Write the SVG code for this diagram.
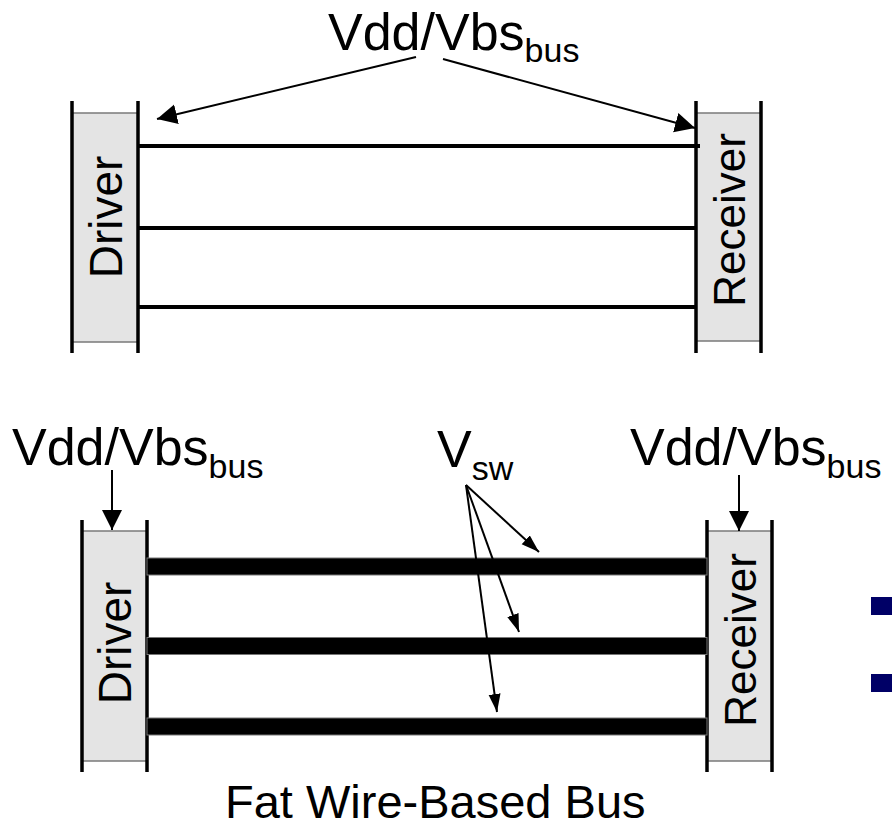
<svg xmlns="http://www.w3.org/2000/svg" width="892" height="830" viewBox="0 0 892 830">
<defs>
<style>
text{font-family:"Liberation Sans",Arial,sans-serif;fill:#000}
.lbl{font-size:52px}
.sub{font-size:34px}
.blk{font-size:44px}
.drv{font-size:46px}
.cap{font-size:47px}
.fill{fill:#e4e4e4;stroke:#7a7a7a;stroke-width:1.5}
.side{stroke:#000;stroke-width:3.5}
.wire{stroke:#000;stroke-width:4}
.fat{fill:#000;stroke:#777;stroke-width:1}
.arr{stroke:#000;stroke-width:2;fill:none}
.bul{fill:#000066}
</style>
<marker id="ah" markerUnits="userSpaceOnUse" markerWidth="22" markerHeight="22" refX="20" refY="10" orient="auto">
<path d="M0,0 L20,10 L0,20 Z" fill="#000"/>
</marker>
<marker id="ahs" markerUnits="userSpaceOnUse" markerWidth="20" markerHeight="14" refX="18" refY="6" orient="auto">
<path d="M0,0 L18,6 L0,12 Z" fill="#000"/>
</marker>
</defs>

<g id="top-driver">
<rect class="fill" x="72" y="113" width="66" height="229"/>
<line class="side" x1="72" y1="101" x2="72" y2="353"/>
<line class="side" x1="138" y1="101" x2="138" y2="353"/>
<text class="drv" text-anchor="middle" transform="translate(105,217) rotate(-90)" y="16.5">Driver</text>
</g>

<g id="top-receiver">
<rect class="fill" x="696" y="113" width="65" height="228"/>
<line class="side" x1="696" y1="101" x2="696" y2="353"/>
<line class="side" x1="761" y1="101" x2="761" y2="353"/>
<text class="blk" text-anchor="middle" transform="translate(728.5,220) rotate(-90)" y="16">Receiver</text>
</g>

<g id="top-label">
<text class="lbl" x="328" y="50">Vdd/Vbs<tspan class="sub" dy="12">bus</tspan></text>
</g>

<g id="bottom-driver">
<rect class="fill" x="82" y="531" width="65" height="230"/>
<line class="side" x1="82" y1="520" x2="82" y2="772"/>
<line class="side" x1="147" y1="520" x2="147" y2="772"/>
<text class="drv" text-anchor="middle" transform="translate(114.5,643) rotate(-90)" y="16.5">Driver</text>
</g>

<g id="bottom-receiver">
<rect class="fill" x="707" y="531" width="65" height="230"/>
<line class="side" x1="707" y1="520" x2="707" y2="772"/>
<line class="side" x1="772" y1="520" x2="772" y2="772"/>
<text class="blk" text-anchor="middle" transform="translate(739.5,640) rotate(-90)" y="16">Receiver</text>
</g>

<g id="bottom-left-label">
<text class="lbl" x="12" y="465">Vdd/Vbs<tspan class="sub" dy="13">bus</tspan></text>
</g>
<g id="bottom-right-label">
<text class="lbl" x="630" y="465">Vdd/Vbs<tspan class="sub" dy="13">bus</tspan></text>
</g>
<g id="vsw-label">
<text class="lbl" x="437" y="467">V<tspan class="sub" dy="13">sw</tspan></text>
</g>

<g id="caption">
<text class="cap" x="225" y="818">Fat Wire-Based Bus</text>
</g>

<g id="bullets">
<rect class="bul" x="871" y="597" width="21" height="18"/>
<rect class="bul" x="871" y="674" width="21" height="18"/>
</g>

<g id="connectors">
<line class="wire" x1="138" y1="146" x2="700" y2="146"/>
<line class="wire" x1="138" y1="228" x2="696" y2="228"/>
<line class="wire" x1="138" y1="307" x2="696" y2="307"/>
<rect class="fat" x="147" y="558" width="560" height="17"/>
<rect class="fat" x="147" y="637.5" width="560" height="17"/>
<rect class="fat" x="147" y="718" width="560" height="17"/>
<line class="arr" x1="416" y1="57" x2="157" y2="119" marker-end="url(#ah)"/>
<line class="arr" x1="443" y1="59" x2="695" y2="128" marker-end="url(#ah)"/>
<line class="arr" x1="112" y1="470" x2="112" y2="530" marker-end="url(#ah)"/>
<line class="arr" x1="739" y1="475" x2="739" y2="531" marker-end="url(#ah)"/>
<line class="arr" x1="466" y1="485" x2="539" y2="552" marker-end="url(#ahs)"/>
<line class="arr" x1="466" y1="485" x2="519" y2="632" marker-end="url(#ahs)"/>
<line class="arr" x1="466" y1="485" x2="497" y2="712" marker-end="url(#ahs)"/>
</g>
</svg>
